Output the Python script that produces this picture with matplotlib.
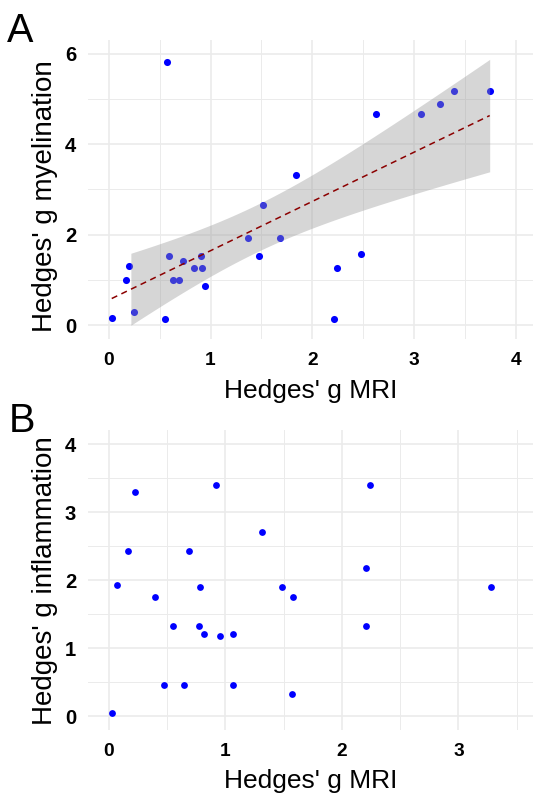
import numpy as np
import matplotlib
matplotlib.use("Agg")
import matplotlib.pyplot as plt

# ---------------- data ----------------
mri_A = [0.03, 0.57, 0.20, 0.17, 0.25, 0.55, 0.59, 0.73, 0.63, 0.69, 0.84, 0.91, 0.92, 0.95,
         1.37, 1.48, 1.51, 1.68, 1.84, 2.21, 2.24, 2.48, 2.62, 3.07, 3.25, 3.39, 3.74]
myelination = [0.16, 5.81, 1.30, 1.00, 0.29, 0.15, 1.53, 1.42, 1.00, 1.00, 1.26, 1.53, 1.26, 0.86,
               1.92, 1.53, 2.65, 1.92, 3.32, 0.15, 1.26, 1.57, 4.67, 4.67, 4.89, 5.17, 5.17]

mri_B = [0.03, 0.075, 0.166, 0.226, 0.40, 0.474, 0.552, 0.646, 0.686, 0.771, 0.783, 0.82,
         0.92, 0.951, 1.063, 1.063, 1.311, 1.488, 1.571, 1.583, 2.208, 2.208, 2.24, 3.282]
inflammation = [0.04, 1.92, 2.43, 3.29, 1.75, 0.46, 1.33, 0.46, 2.43, 1.33, 1.89, 1.20,
                3.40, 1.17, 1.20, 0.46, 2.70, 1.89, 0.33, 1.75, 2.17, 1.33, 3.40, 1.89]

xticks_A = [0, 1, 2, 3, 4]
yticks_A = [0, 2, 4, 6]
xticks_B = [0, 1, 2, 3]
yticks_B = [0, 1, 2, 3, 4]

plt.rcParams['font.family'] = ['Liberation Sans', 'DejaVu Sans']

W, H = 533, 793
fig = plt.figure(figsize=(W / 100, H / 100), dpi=100)

GRID = '#EBEBEB'


def px_axes(left, top, right, bottom):
    return fig.add_axes([left / W, 1 - bottom / H, (right - left) / W, (bottom - top) / H])


def style(ax, xt, yt, xminor, yminor):
    for s in ax.spines.values():
        s.set_visible(False)
    ax.set_xticks(xt)
    ax.set_yticks(yt)
    ax.set_xticks(xminor, minor=True)
    ax.set_yticks(yminor, minor=True)
    ax.grid(True, which='major', color=GRID, lw=1.2, zorder=0)
    ax.grid(True, which='minor', color=GRID, lw=0.7, zorder=0)
    ax.set_axisbelow(True)
    ax.tick_params(which='both', length=0)
    ax.tick_params(axis='y', pad=8.8, labelsize=14.6, labelcolor='black')
    ax.tick_params(axis='x', pad=9.3, labelsize=13.8, labelcolor='black')
    for lab in ax.get_xticklabels() + ax.get_yticklabels():
        lab.set_fontweight('bold')


# ---------------- panel A ----------------
axA = px_axes(88.3, 40, 533, 338.9)
xa = np.array(mri_A)
ya = np.array(myelination)
axA.scatter(xa, ya, s=26, color='#0000FF', linewidths=0, zorder=2)

# linear fit with 95% confidence band
n = len(xa)
b1, b0 = np.polyfit(xa, ya, 1)
resid = ya - (b0 + b1 * xa)
sigma = np.sqrt(np.sum(resid ** 2) / (n - 2))
xg = np.linspace(xa.min(), xa.max(), 80)
yg = b0 + b1 * xg
se = sigma * np.sqrt(1 / n + (xg - xa.mean()) ** 2 / np.sum((xa - xa.mean()) ** 2))
tcrit = 2.0595  # t(0.975, df = n - 2 = 25)
lo = yg - tcrit * se
hi = yg + tcrit * se
ok = (lo >= 0) & (hi <= 6)
axA.fill_between(xg[ok], lo[ok], hi[ok], color='#999999', alpha=0.4, linewidth=0, zorder=3)
axA.plot(xg, yg, color='#8B0000', lw=1.1, ls=(0, (4, 3)), zorder=4)

axA.set_xlim(-0.2, (533 - 109) / 101.8)
axA.set_ylim(-0.3, 6.3)
style(axA, xticks_A, yticks_A, [0.5, 1.5, 2.5, 3.5], [1, 3, 5])
axA.set_xlabel("Hedges' g MRI", fontsize=19, color='black')
axA.set_ylabel("Hedges' g myelination", fontsize=20, color='black')
axA.xaxis.label.set_verticalalignment('baseline')
axA.xaxis.set_label_coords(0.5, -0.1987)
axA.yaxis.label.set_verticalalignment('baseline')
axA.yaxis.set_label_coords(-0.0816, 0.476)

# ---------------- panel B ----------------
axB = px_axes(88.3, 430.4, 533, 729.6)
axB.scatter(mri_B, inflammation, s=24, color='#0000FF', linewidths=0, zorder=2)
axB.set_xlim(-0.175, (533 - 108.3) / 116.7)
axB.set_ylim(-0.2, 4.2)
style(axB, xticks_B, yticks_B, [0.5, 1.5, 2.5, 3.5], [0.5, 1.5, 2.5, 3.5])
axB.set_xlabel("Hedges' g MRI", fontsize=19, color='black')
axB.set_ylabel("Hedges' g inflammation", fontsize=20, color='black')
axB.xaxis.label.set_verticalalignment('baseline')
axB.xaxis.set_label_coords(0.5, -0.196)
axB.yaxis.label.set_verticalalignment('baseline')
axB.yaxis.set_label_coords(-0.0816, 0.497)

# panel letters
fig.text(6.7 / W, 1 - 41.7 / H, 'A', fontsize=28.5, va='baseline', ha='left', color='black')
fig.text(9.0 / W, 1 - 431.7 / H, 'B', fontsize=28.5, va='baseline', ha='left', color='black')

fig.savefig('out.png', dpi=100, facecolor='white')
